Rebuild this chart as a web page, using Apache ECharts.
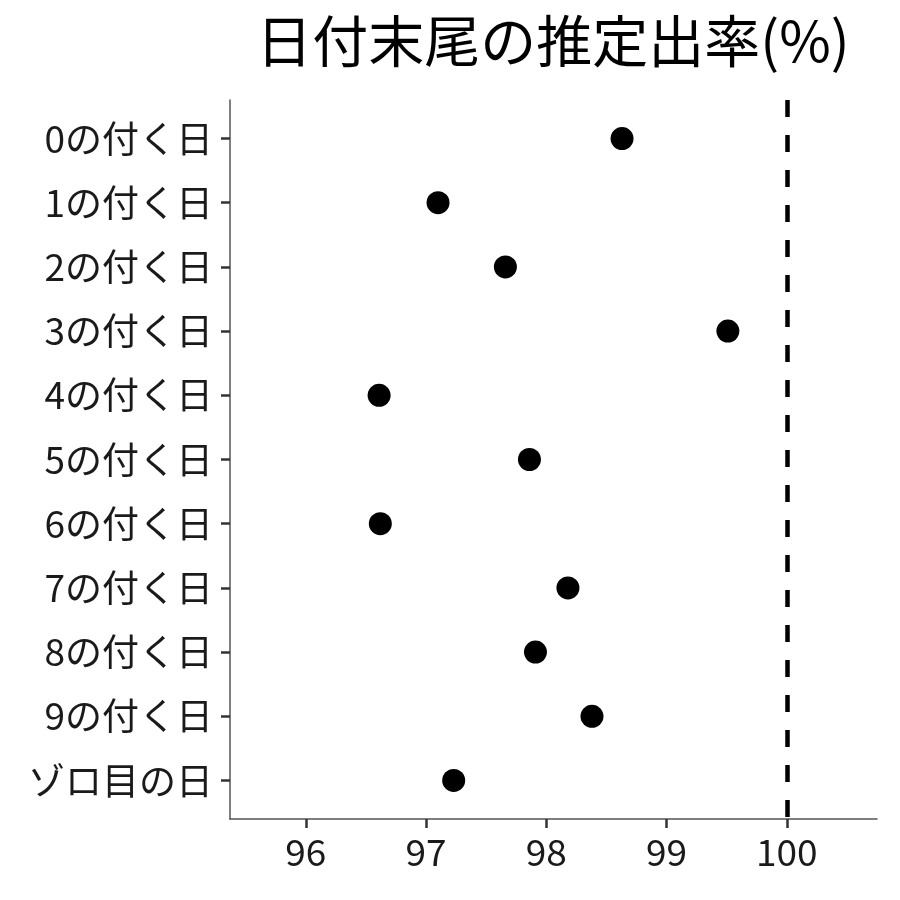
<!DOCTYPE html>
<html>
<head>
<meta charset="utf-8">
<script src="https://cdn.jsdelivr.net/npm/echarts@6/dist/echarts.min.js"></script>
<style>html,body{margin:0;padding:0;background:#fff}#c{width:900px;height:900px}</style>
</head>
<body>
<div id="c"></div>
<script>
var titleText = '日付末尾の推定出率(%)';
var categories = ['0の付く日','1の付く日','2の付く日','3の付く日','4の付く日','5の付く日','6の付く日','7の付く日','8の付く日','9の付く日','ゾロ目の日'];
var rates = [98.63, 97.10, 97.66, 99.51, 96.61, 97.86, 96.62, 98.18, 97.91, 98.38, 97.23];
var xTicks = [96, 97, 98, 99, 100];
var refValue = 100;

var font = '"Noto Sans CJK JP", "Noto Sans", sans-serif';
var positions = categories.map(function(_, i){ return i + 1; });
var points = rates.map(function(v, i){ return [v, i + 1]; });

var chart = echarts.init(document.getElementById('c'), null, {renderer: 'canvas'});
chart.setOption({
  animation: false,
  backgroundColor: '#ffffff',
  title: {
    text: titleText,
    left: 548, top: 8, textAlign: 'center',
    textStyle: {fontFamily: font, fontSize: 56, fontWeight: 'normal', color: '#000'}
  },
  grid: {left: 230, right: 23, top: 100, bottom: 81, containLabel: false},
  xAxis: {
    type: 'value', min: 95.37, max: 100.75,
    axisLine: {show: true, onZero: false, lineStyle: {color: '#555', width: 1.5}},
    axisTick: {show: true, length: 9, customValues: xTicks, lineStyle: {color: '#333', width: 2.5}},
    axisLabel: {customValues: xTicks, margin: 14, fontFamily: font, fontSize: 37, color: '#1a1a1a'},
    splitLine: {show: false}
  },
  yAxis: {
    type: 'value', min: 0.4, max: 11.6, inverse: true,
    axisLine: {show: true, onZero: false, lineStyle: {color: '#555', width: 1.5}},
    axisTick: {show: true, length: 9, customValues: positions, lineStyle: {color: '#333', width: 2.5}},
    axisLabel: {
      customValues: positions, margin: 17, fontFamily: font, fontSize: 37, color: '#1a1a1a',
      formatter: function(v){ return categories[Math.round(v) - 1] || ''; }
    },
    splitLine: {show: false}
  },
  series: [{
    type: 'scatter',
    data: points,
    symbol: 'circle',
    symbolSize: 23,
    itemStyle: {color: '#000', opacity: 1},
    markLine: {
      silent: true, symbol: ['none','none'], label: {show: false},
      lineStyle: {color: '#000', width: 4.5, type: [17, 18], opacity: 1},
      data: [{xAxis: refValue}]
    }
  }]
});
</script>
</body>
</html>
